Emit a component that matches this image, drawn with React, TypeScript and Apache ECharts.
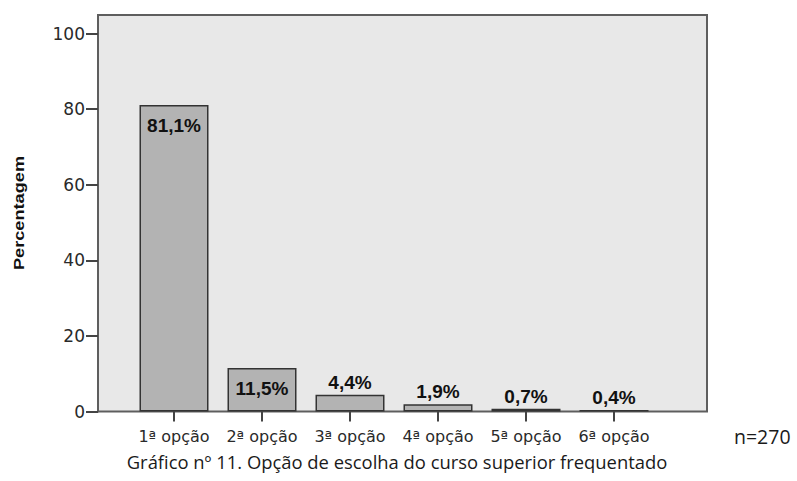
import React, { useEffect, useRef } from "react";
import * as echarts from "echarts";

const categories = ["1ª opção", "2ª opção", "3ª opção", "4ª opção", "5ª opção", "6ª opção"];
const values = [81.1, 11.5, 4.4, 1.9, 0.7, 0.4];
const labelInside = [true, true, false, false, false, false];
const yTicks = [0, 20, 40, 60, 80, 100];
const yAxisTitle = "Percentagem";
const caption = "Gráfico nº 11. Opção de escolha do curso superior frequentado";
const sampleNote = "n=270";

export default function App() {
  const ref = useRef<HTMLDivElement>(null);
  useEffect(() => {
    document.body.style.margin = "0";
    const chart = echarts.init(ref.current!, null, { renderer: "svg" });
    const fmt = (v: number) => v.toFixed(1).replace(".", ",") + "%";
    chart.setOption({
      animation: false,
      backgroundColor: "#ffffff",
      grid: { left: 130, right: 139, top: 33.5, bottom: 69.5 },
      graphic: [
        {
          type: "rect",
          z: 0,
          shape: { x: 98, y: 15, width: 609, height: 396.5 },
          style: { fill: "#e8e8e8", stroke: "#5e5e5e", lineWidth: 2 },
        },
        {
          type: "text",
          x: 19,
          y: 213,
          rotation: Math.PI / 2,
          scaleX: 1.3,
          style: {
            text: yAxisTitle,
            font: "bold 14px 'Liberation Sans', Arial, sans-serif",
            fill: "#111",
            align: "center",
            verticalAlign: "middle",
          },
        },
        {
          type: "text",
          x: 397,
          y: 461,
          style: {
            text: caption,
            font: "18.4px 'Open Sans', 'Noto Sans', sans-serif",
            fill: "#1a1a1a",
            align: "center",
            verticalAlign: "middle",
          },
        },
        {
          type: "text",
          x: 734,
          y: 436,
          style: {
            text: sampleNote,
            font: "19.5px 'Open Sans', 'Noto Sans', sans-serif",
            fill: "#1a1a1a",
            align: "left",
            verticalAlign: "middle",
          },
        },
      ],
      xAxis: {
        type: "category",
        data: categories,
        axisLine: { show: false },
        axisTick: { show: true, alignWithLabel: true, length: 10, lineStyle: { color: "#444", width: 2 } },
        axisLabel: {
          interval: 0,
          color: "#2a2a2a",
          fontSize: 16,
          fontFamily: "'DejaVu Sans', sans-serif",
          margin: 17,
        },
      },
      yAxis: {
        type: "value",
        min: 0,
        max: 100,
        interval: 20,
        offset: 32,
        splitLine: { show: false },
        axisLine: { show: true, lineStyle: { color: "#5e5e5e", width: 2 } },
        axisTick: { show: true, length: 12, lineStyle: { color: "#444", width: 2 } },
        axisLabel: {
          color: "#2a2a2a",
          fontSize: 17,
          fontFamily: "'DejaVu Sans', sans-serif",
          margin: 13,
          formatter: (v: number) => (yTicks.includes(v) ? String(v) : ""),
        },
      },
      series: [
        {
          type: "bar",
          barWidth: 69,
          z: 2,
          data: values.map((v, i) => ({
            value: v,
            label: labelInside[i]
              ? { position: "insideTop", distance: 11 }
              : { position: "top", distance: 3 },
          })),
          itemStyle: { color: "#b3b3b3", borderColor: "#333", borderWidth: 1.5 },
          label: {
            show: true,
            color: "#111",
            fontWeight: "bold",
            fontSize: 19,
            fontFamily: "'Liberation Sans', Arial, sans-serif",
            formatter: (p: any) => fmt(p.value),
          },
        },
      ],
    });
    return () => chart.dispose();
  }, []);
  return <div ref={ref} style={{ position: "fixed", left: 0, top: 0, width: 797, height: 481 }} />;
}
